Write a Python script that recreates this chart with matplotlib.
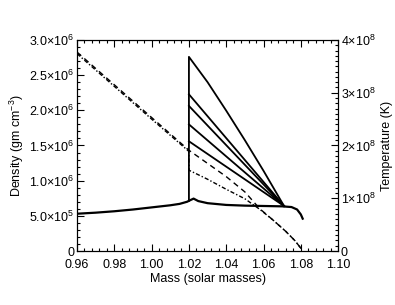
import numpy as np
import matplotlib
matplotlib.use('Agg')
import matplotlib.pyplot as plt
from matplotlib.ticker import MultipleLocator, FixedLocator

plt.rcParams['font.family'] = ['Liberation Sans', 'DejaVu Sans']
plt.rcParams['mathtext.fontset'] = 'custom'
plt.rcParams['mathtext.rm'] = 'Liberation Sans'
plt.rcParams['mathtext.it'] = 'Liberation Sans'
plt.rcParams['mathtext.default'] = 'rm'

# density profile (gm cm^-3)
mass_rho = [0.96, 0.97, 0.98, 0.99, 1.00, 1.01, 1.015, 1.019, 1.0205, 1.0225,
            1.025, 1.03, 1.04, 1.05, 1.06, 1.07, 1.075, 1.078, 1.080, 1.081]
rho = [5.3e5, 5.45e5, 5.65e5, 5.9e5, 6.2e5, 6.5e5, 6.7e5, 7.0e5, 7.2e5, 7.45e5,
       7.1e5, 6.8e5, 6.55e5, 6.45e5, 6.4e5, 6.35e5, 6.25e5, 5.9e5, 5.2e5, 4.6e5]

# temperature fan (K) behind the shock at 1.02 Msun
m_shock = 1.02
m_conv = 1.071
T_base = 0.95e8
T_conv = 0.853e8
T_peaks = [3.68e8, 2.97e8, 2.75e8, 2.40e8, 2.08e8]
# top curve is slightly bowed
mass_top = [1.02, 1.03, 1.04, 1.05, 1.06, 1.071]
T_top = [3.68e8, 3.20e8, 2.66e8, 2.10e8, 1.52e8, 0.853e8]

# dashed and dash-dot temperature profiles (K)
mass_dash = [0.96, 0.98, 1.00, 1.02, 1.04, 1.05, 1.058, 1.065, 1.072, 1.077, 1.0805]
T_dash = [3.77e8, 3.15e8, 2.53e8, 1.91e8, 1.41e8, 1.12e8, 0.80e8, 0.59e8, 0.37e8, 0.19e8, 0.03e8]
mass_dd = [0.96, 0.98, 1.00, 1.0199, 1.0201, 1.03, 1.04, 1.05, 1.058, 1.065, 1.072, 1.077, 1.0805]
T_dd = [3.74e8, 3.12e8, 2.50e8, 1.89e8, 1.53e8, 1.36e8, 1.17e8, 0.99e8, 0.79e8, 0.59e8, 0.37e8, 0.19e8, 0.03e8]

x_ticks = [0.96, 0.98, 1.00, 1.02, 1.04, 1.06, 1.08, 1.10]
x_labels = ['0.96', '0.98', '1.00', '1.02', '1.04', '1.06', '1.08', '1.10']
rho_ticks = [0, 5e5, 1e6, 1.5e6, 2e6, 2.5e6, 3e6]
rho_labels = ['0', r'5.0$\times$10$^5$', r'1.0$\times$10$^6$', r'1.5$\times$10$^6$',
              r'2.0$\times$10$^6$', r'2.5$\times$10$^6$', r'3.0$\times$10$^6$']
T_ticks = [0, 1e8, 2e8, 3e8, 4e8]
T_labels = ['0', r'1$\times$10$^8$', r'2$\times$10$^8$', r'3$\times$10$^8$', r'4$\times$10$^8$']

fig = plt.figure(figsize=(3.95, 3.05), dpi=100)
ax = fig.add_axes([0.195, 0.177, 0.661, 0.692])
ax2 = ax.twinx()

ax.plot(mass_rho, rho, color='black', lw=1.6)

# temperature curves
ax2.plot([m_shock, m_shock] + mass_top[1:], [T_base] + T_top, color='black', lw=1.3)
for Tp in T_peaks[1:]:
    ax2.plot([m_shock, m_conv], [Tp, T_conv], color='black', lw=1.3)
ax2.plot(mass_dash, T_dash, color='black', lw=1.0, ls=(0, (4, 3)))
ax2.plot(mass_dd, T_dd, color='black', lw=1.0, ls=(0, (3, 1.5, 1, 1.5)))

ax.set_xlim(0.96, 1.10)
ax.set_ylim(0, 3.0e6)
ax2.set_ylim(0, 4.0e8)

ax.xaxis.set_major_locator(FixedLocator(x_ticks))
ax.xaxis.set_minor_locator(MultipleLocator(0.004))
ax.set_xticklabels(x_labels)

ax.yaxis.set_major_locator(FixedLocator(rho_ticks))
ax.yaxis.set_minor_locator(MultipleLocator(1e5))
ax.set_yticklabels(rho_labels)

ax2.yaxis.set_major_locator(FixedLocator(T_ticks))
ax2.yaxis.set_minor_locator(MultipleLocator(1e7))
ax2.set_yticklabels(T_labels)

ax.tick_params(axis='x', which='both', direction='in', top=True, labelsize=9, pad=6)
ax.tick_params(axis='y', which='both', direction='in', labelsize=9, pad=2)
ax2.tick_params(axis='y', which='both', direction='in', labelsize=9, pad=2)
for a in (ax, ax2):
    a.tick_params(which='major', length=5, width=0.8)
    a.tick_params(which='minor', length=2.5, width=0.8)

ax.set_xlabel('Mass (solar masses)', fontsize=9, labelpad=1)
ax.set_ylabel(r'Density (gm cm$^{-3}$)', fontsize=9, labelpad=2)
ax2.set_ylabel('Temperature (K)', fontsize=9, labelpad=4)

fig.savefig('out.png', dpi=100)
